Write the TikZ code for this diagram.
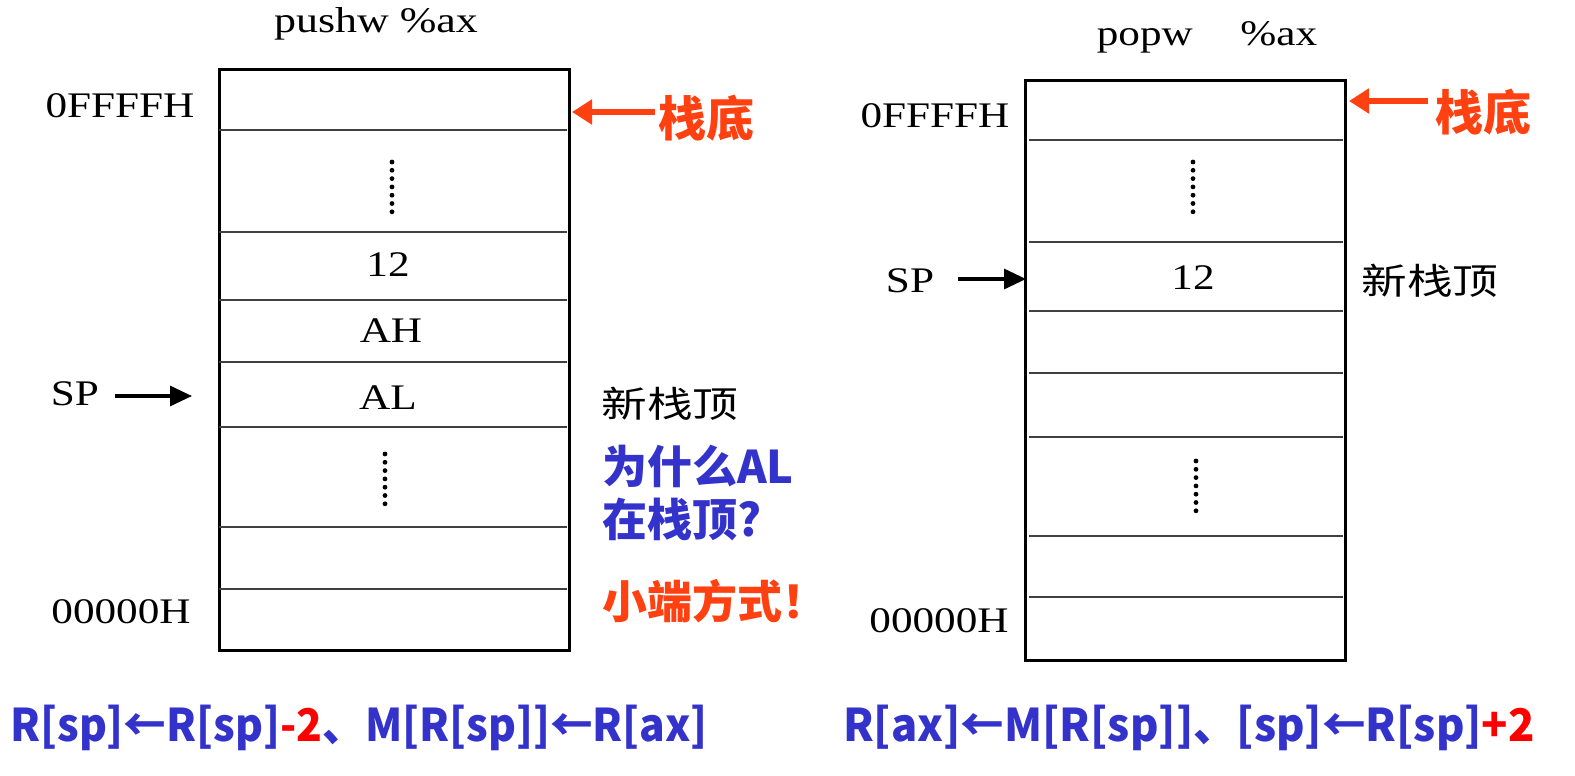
\documentclass[tikz,border=0pt]{standalone}
\usepackage{fontspec}
\usepackage{graphicx}
\setmainfont{Liberation Serif}
\newfontfamily\cjk{Noto Sans CJK SC}
\usetikzlibrary{arrows.meta}
\definecolor{fblue}{RGB}{51,51,204}
\definecolor{fred}{RGB}{255,0,0}
\definecolor{ored}{RGB}{255,64,16}
\newcommand{\sx}[2]{\scalebox{#1}[1]{#2}}
\tikzset{
  lbl/.style={inner sep=0pt, font=\fontsize{36}{36}\selectfont},
  cjkn/.style={inner sep=0pt, font=\cjk\fontsize{36}{36}\selectfont},
  cjkq/.style={inner sep=0pt, anchor=west, font=\cjk\bfseries\fontsize{45}{45}\selectfont},
  formula/.style={inner sep=0pt, text=fblue, font=\cjk\bfseries\fontsize{45}{45}\selectfont},
  frame/.style={draw=black, line width=3pt},
  sep/.style={draw=black!75, line width=2.6pt},
  dot/.style={fill=black},
  sparrow/.style={line width=3.2pt, -{Triangle[length=22pt,width=20pt]}},
  redarrow/.style={draw=ored, line width=6pt, -{Triangle[length=20pt,width=24pt]}},
}
\begin{document}
\begin{tikzpicture}[x=1pt,y=-1pt]
\useasboundingbox (0,0) rectangle (1575,776);
\fill[white] (0,0) rectangle (1575,776);

% ---------------- left stack (pushw) ----------------
\node[lbl] (ttlL) at (376,24) {\sx{1.22}{pushw \%ax}};
\draw[frame] (219,70) rectangle (569,650);
\foreach \yy in {130,232,300,362,427,527,589}
  \draw[sep] (219,\yy) -- (567,\yy);
\foreach \k in {0,...,6} \fill[dot] (392,162+\k*8.3) circle (2.4pt);
\foreach \k in {0,...,6} \fill[dot] (385,454+\k*8.3) circle (2.4pt);
\node[lbl] (topL) at (120,106) {\sx{1.2}{0FFFFH}};
\node[lbl] (botL) at (121,612) {\sx{1.2}{00000H}};
\node[lbl] (v12L) at (388,265) {\sx{1.2}{12}};
\node[lbl] (vAH) at (391,331) {\sx{1.2}{AH}};
\node[lbl] (vAL) at (388,398) {\sx{1.2}{AL}};
\node[lbl] (spL) at (75,394) {\sx{1.2}{SP}};
\coordinate (spLs) at (115,396);
\coordinate (spLe) at (192,396);
\draw[sparrow] (spLs) -- (spLe);
\node[cjkn] (newL) at (670,404) {\sx{1.27}{新栈顶}};
\node[cjkq, text=fblue] (whyA) at (602,466) {为什么AL};
\node[cjkq, text=fblue] (whyB) at (602,519) {在栈顶?};
\node[cjkq, text=ored] (little) at (602,601) {小端方式！};
\node[cjkq, text=ored, font=\cjk\bfseries\fontsize{48}{48}\selectfont] (bottomL) at (658,118) {栈底};
\coordinate (rL) at (572,112);
\draw[redarrow] (bottomL.west) ++(-3,-6) -- (rL);

% ---------------- right stack (popw) ----------------
\node[lbl] (ttlR) at (1207,37) {\sx{1.2}{popw\hspace{1.1em}\%ax}};
\draw[frame] (1025,81) rectangle (1345,660);
\foreach \yy in {140,242,311,373,437,536,597}
  \draw[sep] (1029,\yy) -- (1343,\yy);
\foreach \k in {0,...,6} \fill[dot] (1193,162+\k*8.3) circle (2.4pt);
\foreach \k in {0,...,6} \fill[dot] (1196,461+\k*8.3) circle (2.4pt);
\node[lbl] (topR) at (935,116) {\sx{1.2}{0FFFFH}};
\node[lbl] (botR) at (939,621) {\sx{1.2}{00000H}};
\node[lbl] (v12R) at (1193,278) {\sx{1.2}{12}};
\node[lbl] (spR) at (910,281) {\sx{1.2}{SP}};
\coordinate (spRs) at (958,279);
\coordinate (spRe) at (1026,279);
\draw[sparrow] (spRs) -- (spRe);
\node[cjkn] (newR) at (1430,281) {\sx{1.27}{新栈顶}};
\node[cjkq, text=ored, font=\cjk\bfseries\fontsize{48}{48}\selectfont] (bottomR) at (1435,112) {栈底};
\coordinate (rR) at (1349,101);
\draw[redarrow] (bottomR.west) ++(-7,-11) -- (rR);

% ---------------- formulas ----------------
\node[formula, anchor=west] (fL) at (10,728) {\sx{0.945}{R[sp]←R[sp]\textcolor{fred}{-2}、M[R[sp]]←R[ax]}};
\node[formula, anchor=west] (fR) at (843,728) {\sx{0.965}{R[ax]←M[R[sp]]、[sp]←R[sp]\textcolor{fred}{+2}}};
\end{tikzpicture}
\end{document}
